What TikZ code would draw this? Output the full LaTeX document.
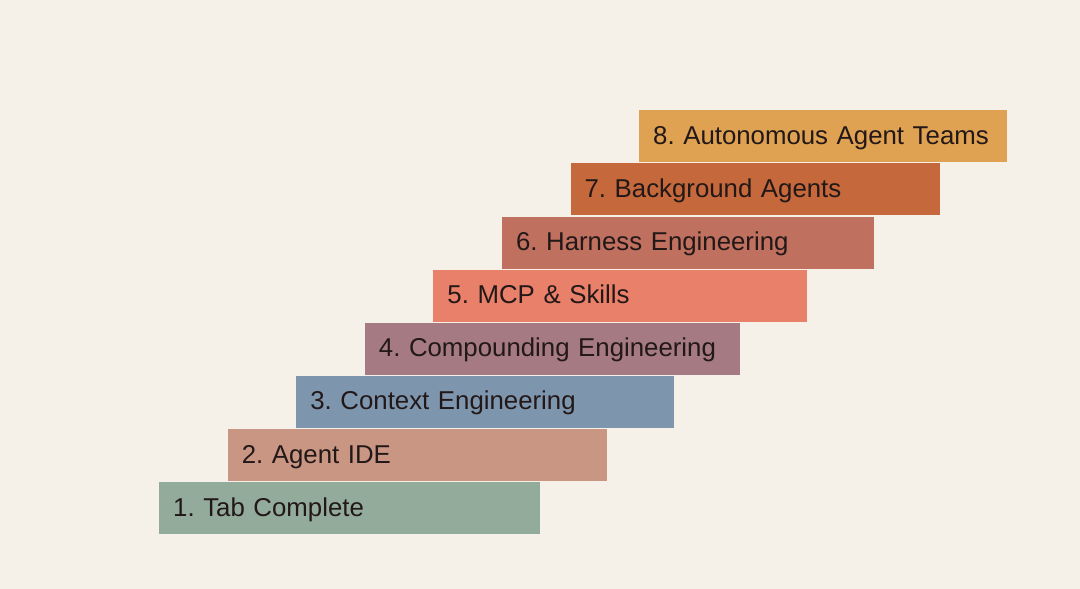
\documentclass[tikz,border=0pt]{standalone}
\usepackage{fontspec}
\setmainfont{Liberation Sans}
\frenchspacing

\definecolor{paper}{HTML}{F5F1E8}
\definecolor{ink}{HTML}{221818}
\definecolor{stairOne}{HTML}{92AB9B}
\definecolor{stairTwo}{HTML}{C99684}
\definecolor{stairThree}{HTML}{7E95AE}
\definecolor{stairFour}{HTML}{A57A82}
\definecolor{stairFive}{HTML}{E8806A}
\definecolor{stairSix}{HTML}{C0705F}
\definecolor{stairSeven}{HTML}{C5683B}
\definecolor{stairEight}{HTML}{DFA152}

\begin{document}
\begin{tikzpicture}[x=1pt, y=-1pt,
    stairbox/.style={anchor=north west, inner xsep=14pt, inner ysep=0pt,
        minimum height=52pt, text height=22pt, text depth=6pt,
        align=left, text=ink, font=\fontsize{25.8}{30}\selectfont}]
    % Globals
    \pgfmathsetmacro{\stairLeft}{159}
    \pgfmathsetmacro{\stairRight}{540}
    \pgfmathsetmacro{\stairTop}{482}
    \pgfmathsetmacro{\shiftLeft}{68.57}
    \pgfmathsetmacro{\shiftRight}{66.71}
    \pgfmathsetmacro{\rise}{53.14}

    \fill[paper] (0,0) rectangle (1080,589);
    \useasboundingbox (0,0) rectangle (1080,589);

    \foreach \i/\col/\txt in {1/stairOne/{1. Tab Complete},
                              2/stairTwo/{2. Agent IDE},
                              3/stairThree/{3. Context Engineering},
                              4/stairFour/{4. Compounding Engineering},
                              5/stairFive/{5. MCP \& Skills},
                              6/stairSix/{6. Harness Engineering},
                              7/stairSeven/{7. Background Agents},
                              8/stairEight/{8. Autonomous Agent Teams}} {
        \pgfmathsetmacro{\x}{\stairLeft + (\i-1)*\shiftLeft}
        \pgfmathsetmacro{\y}{\stairTop - (\i-1)*\rise}
        \pgfmathsetmacro{\w}{\stairRight - \stairLeft + (\i-1)*(\shiftRight-\shiftLeft)}
        \pgfmathsetmacro{\tw}{\w - 28}
        \coordinate (STAIR_NW) at (\x, \y);
        \node[stairbox, fill=\col, minimum width=\w pt, text width=\tw pt]
            (stair\i) at (STAIR_NW) {\txt};
    }
\end{tikzpicture}
\end{document}
